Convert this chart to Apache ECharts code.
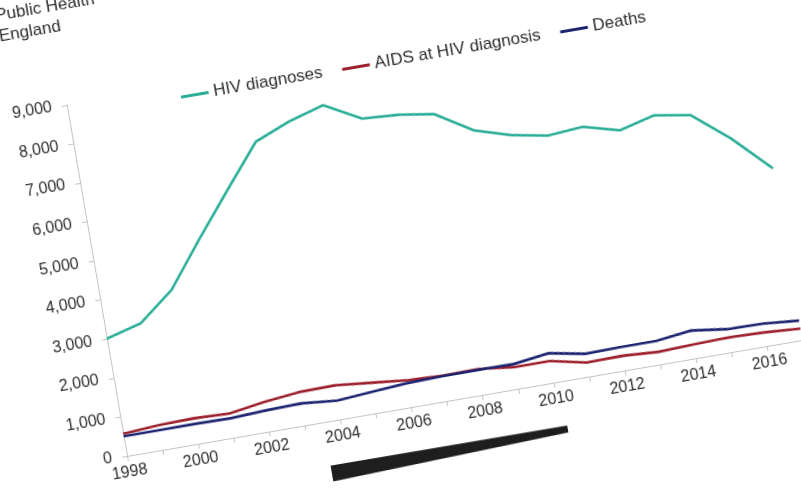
<!DOCTYPE html>
<html>
<head>
<meta charset="utf-8">
<script src="https://cdn.jsdelivr.net/npm/echarts@6/dist/echarts.min.js"></script>
<style>
  html, body { margin: 0; padding: 0; background: #ffffff; overflow: hidden; width: 801px; height: 489px; }
  #stage { position: relative; width: 801px; height: 489px; overflow: hidden; background: #ffffff; }
  /* chart frame: plot origin sits at (100, 500) inside the box; the whole sheet is tilted */
  #chart {
    position: absolute;
    left: 26.7px;
    top: -44px;
    width: 900px;
    height: 600px;
    transform-origin: 100px 500px;
    transform: rotate(-9.75deg);
  }
</style>
</head>
<body>
<div id="stage"><div id="chart"></div></div>
<script>
// New HIV diagnoses, AIDS at HIV diagnosis and deaths, 1998-2017
const years = ['1998','1999','2000','2001','2002','2003','2004','2005','2006','2007',
               '2008','2009','2010','2011','2012','2013','2014','2015','2016','2017'];
const hivDiagnoses = [3010, 3250, 3950, 5100, 6200, 7280, 7640, 7900, 7400, 7340,
                      7200, 6630, 6350, 6180, 6250, 6000, 6230, 6080, 5320, 4400];
const aidsAtDiagnosis = [570, 630, 655, 620, 760, 855, 870, 780, 690, 650,
                         665, 560, 555, 360, 375, 320, 355, 380, 350, 290];
const deaths = [505, 505, 508, 495, 540, 565, 480, 550, 615, 640,
                645, 635, 755, 585, 600, 600, 710, 590, 575, 495];
const yTicks = { min: 0, max: 9000, step: 1000 };

const FONT = '"Liberation Sans", Arial, sans-serif';
const TEXT = '#2e2e2e';
const ORIGIN = { x: 100, y: 500 };
const PLOT_W = 685.3, PLOT_H = 356.1;

const chart = echarts.init(document.getElementById('chart'), null, { renderer: 'canvas', width: 900, height: 600 });

chart.setOption({
  animation: false,
  backgroundColor: 'transparent',
  textStyle: { fontFamily: FONT },
  grid: {
    left: ORIGIN.x,
    top: ORIGIN.y - PLOT_H,
    width: PLOT_W,
    height: PLOT_H,
    containLabel: false,
    outerBoundsMode: 'none'
  },
  legend: {
    left: ORIGIN.x + 109,
    top: ORIGIN.y - 348 - 10,
    icon: 'rect',
    itemWidth: 28,
    itemHeight: 3,
    itemGap: 20,
    textStyle: { fontFamily: FONT, fontSize: 17, color: TEXT },
    data: ['HIV diagnoses', 'AIDS at HIV diagnosis', 'Deaths']
  },
  xAxis: {
    type: 'category',
    data: years,
    boundaryGap: false,
    axisLine: { lineStyle: { color: '#c4c4c4', width: 1 } },
    axisTick: { show: true, interval: 0, length: 5, lineStyle: { color: '#c4c4c4' } },
    axisLabel: { interval: 1, margin: 9, fontFamily: FONT, fontSize: 16, color: TEXT },
    splitLine: { show: false }
  },
  yAxis: {
    type: 'value',
    min: yTicks.min,
    max: yTicks.max,
    interval: yTicks.step,
    axisLine: { show: true, lineStyle: { color: '#c4c4c4', width: 1 } },
    axisTick: { show: true, length: 5, lineStyle: { color: '#c4c4c4' } },
    axisLabel: {
      margin: 15, fontFamily: FONT, fontSize: 16, color: TEXT,
      formatter: v => v.toLocaleString('en-US')
    },
    splitLine: { show: false }
  },
  series: [
    { name: 'HIV diagnoses', type: 'line', data: hivDiagnoses, symbol: 'none',
      lineStyle: { color: '#2aae97', width: 2.6 }, itemStyle: { color: '#2aae97' } },
    { name: 'AIDS at HIV diagnosis', type: 'line', data: aidsAtDiagnosis, symbol: 'none',
      lineStyle: { color: '#9c1f2c', width: 2.6 }, itemStyle: { color: '#9c1f2c' } },
    { name: 'Deaths', type: 'line', data: deaths, symbol: 'none',
      lineStyle: { color: '#1d2470', width: 2.6 }, itemStyle: { color: '#1d2470' } }
  ],
  graphic: [
    { type: 'text', left: ORIGIN.x - 55, top: ORIGIN.y - 464,
      style: { text: 'Public Health', fontFamily: FONT, fontSize: 17, fill: TEXT } },
    { type: 'text', left: ORIGIN.x - 55, top: ORIGIN.y - 443,
      style: { text: 'England', fontFamily: FONT, fontSize: 17, fill: TEXT } },
    { type: 'polygon',
      shape: { points: [
        [ORIGIN.x + 199, ORIGIN.y + 44],
        [ORIGIN.x + 439, ORIGIN.y + 44.5],
        [ORIGIN.x + 439, ORIGIN.y + 51.5],
        [ORIGIN.x + 199, ORIGIN.y + 60]
      ] },
      style: { fill: '#1e1e1e' } }
  ]
});
</script>
</body>
</html>
